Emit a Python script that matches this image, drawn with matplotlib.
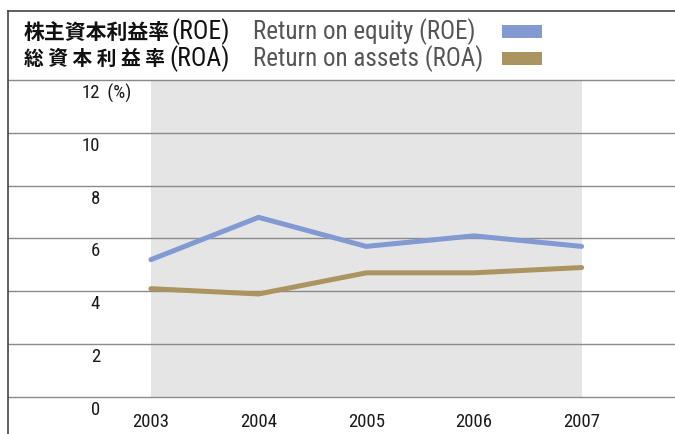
import matplotlib.pyplot as plt

years = [2003, 2004, 2005, 2006, 2007]
roe = [5.2, 6.8, 5.7, 6.1, 5.7]
roa = [4.1, 3.9, 4.7, 4.7, 4.9]
y_ticks = [0, 2, 4, 6, 8, 10, 12]

roe_label_jp = "株主資本利益率"
roa_label_jp = "総 資 本 利 益 率"
roe_abbr = "(ROE)"
roa_abbr = "(ROA)"
roe_label_en = "Return on equity (ROE)"
roa_label_en = "Return on assets (ROA)"

roe_color = "#8299d1"
roa_color = "#ab945f"
latin = ["Roboto Condensed", "Archivo Narrow", "Noto Sans CJK JP", "DejaVu Sans"]
cjk = ["Noto Sans CJK JP", "DejaVu Sans"]

W, H = 675, 435
fig = plt.figure(figsize=(W / 100, H / 100), dpi=100)

# axes cover the framed area: left border at x=8, top border at y=12
ax = fig.add_axes([8 / W, 0, (W - 8) / W, (H - 12) / H])
ax.set_xlim(2001.672, 2007.868)
ax.set_ylim(-1.40, 14.61)

# grey band behind the plotted years
ax.fill_between([years[0], years[-1]], 0, 12, color="#e5e5e5", lw=0, zorder=0)

for t in y_ticks:
    ax.axhline(t, color="#8a8a8a", lw=1.0, zorder=1)

ax.plot(years, roe, color=roe_color, lw=3.6, solid_capstyle="round", zorder=3)
ax.plot(years, roa, color=roa_color, lw=3.6, solid_capstyle="round", zorder=3)

ax.set_xticks([])
ax.set_yticks([])
for side in ["right", "bottom"]:
    ax.spines[side].set_visible(False)
for side in ["left", "top"]:
    ax.spines[side].set_color("#444444")
    ax.spines[side].set_linewidth(1.2)

# y labels just under each grid line
for t in y_ticks:
    ax.annotate(str(t), xy=(2001.672, t), xycoords="data",
                xytext=(92, -3), textcoords="offset pixels",
                ha="right", va="top", fontsize=13.5, family=latin, color="#1a1a1a")
ax.annotate(" (%)", xy=(2001.672, 12), xycoords="data",
            xytext=(95, -3), textcoords="offset pixels",
            ha="left", va="top", fontsize=13.5, family=latin, color="#1a1a1a")

for yr in years:
    ax.annotate(str(yr), xy=(yr, 0), xycoords="data",
                xytext=(0, -15), textcoords="offset pixels",
                ha="center", va="top", fontsize=13.5, family=latin, color="#1a1a1a")

# header legend
rows = [(32, roe_label_jp, 15, roe_abbr, roe_label_en, roe_color),
        (59, roa_label_jp, 14.2, roa_abbr, roa_label_en, roa_color)]
for ypix, jp, jp_size, abbr, en, col in rows:
    fy = 1 - ypix / H
    fig.text(24 / W, fy, jp, ha="left", va="center", fontsize=jp_size,
             family=cjk, fontweight="bold", color="#111111")
    fig.text(230 / W, fy, abbr, ha="right", va="center", fontsize=18.5,
             family=latin, color="#111111")
    fig.text(253 / W, fy, en, ha="left", va="center", fontsize=18,
             family=latin, color="#555555")
    fig.patches.append(plt.Rectangle((502 / W, fy - 6.5 / H), 40 / W, 12.5 / H,
                                     transform=fig.transFigure, color=col, lw=0))

fig.savefig("out.png", dpi=100)
